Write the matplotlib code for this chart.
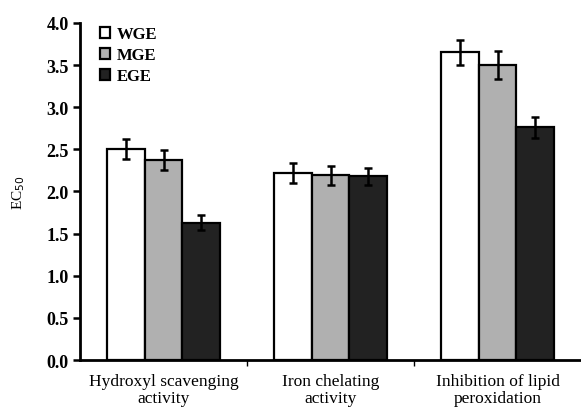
import numpy as np
import matplotlib.pyplot as plt

# valores
categorias = ["Hydroxyl scavenging\nactivity", "Iron chelating\nactivity", "Inhibition of lipid\nperoxidation"]
series = ["WGE", "MGE", "EGE"]
wge = [2.50, 2.22, 3.65]
mge = [2.37, 2.19, 3.50]
ege = [1.63, 2.18, 2.76]
wge_err = [0.12, 0.12, 0.15]
mge_err = [0.12, 0.11, 0.17]
ege_err = [0.09, 0.10, 0.13]

cores = ["white", "#b0b0b0", "#222222"]

plt.rcParams['font.family'] = ['Liberation Serif', 'DejaVu Serif']

fig = plt.figure(figsize=(5.81, 4.10), dpi=100)
ax = fig.add_axes([0.1377, 0.1195, 0.8623, 0.822])

x = np.arange(len(categorias))
larg = 0.225
valores = [wge, mge, ege]
erros = [wge_err, mge_err, ege_err]
for i, (v, e) in enumerate(zip(valores, erros)):
    ax.bar(x + (i - 1) * larg, v, larg, color=cores[i], edgecolor="black",
           linewidth=1.6, label=series[i], zorder=2)
    ax.errorbar(x + (i - 1) * larg, v, yerr=e, fmt="none", ecolor="black",
                elinewidth=1.8, capsize=3, capthick=1.8, zorder=3)

ax.set_xlim(-0.5, 2.5)
ax.set_ylim(0, 4.0)
ax.set_yticks(np.arange(0, 4.01, 0.5))
ax.set_yticklabels([f"{t:.1f}" for t in np.arange(0, 4.01, 0.5)], fontweight="bold", fontsize=13)
ax.set_xticks(x)
ax.set_xticklabels(categorias, fontsize=12.5, linespacing=1.1)
ax.tick_params(axis="x", length=0, pad=9)
ax.set_xticks([0.5, 1.5], minor=True)
ax.tick_params(axis="x", which="minor", length=4, width=1)
ax.tick_params(axis="y", length=5, width=1.8, direction="out", pad=3)

for s in ["top", "right"]:
    ax.spines[s].set_visible(False)
for s in ["left", "bottom"]:
    ax.spines[s].set_linewidth(2)

ax.set_ylabel("EC$_{50}$", fontsize=11, labelpad=14)

leg = ax.legend(loc="upper left", bbox_to_anchor=(0.01, 1.035), frameon=False,
                prop={"size": 12, "weight": "bold"}, handlelength=0.6, handleheight=0.6,
                handletextpad=0.4, labelspacing=0.3)

fig.savefig("out.png", dpi=100)
